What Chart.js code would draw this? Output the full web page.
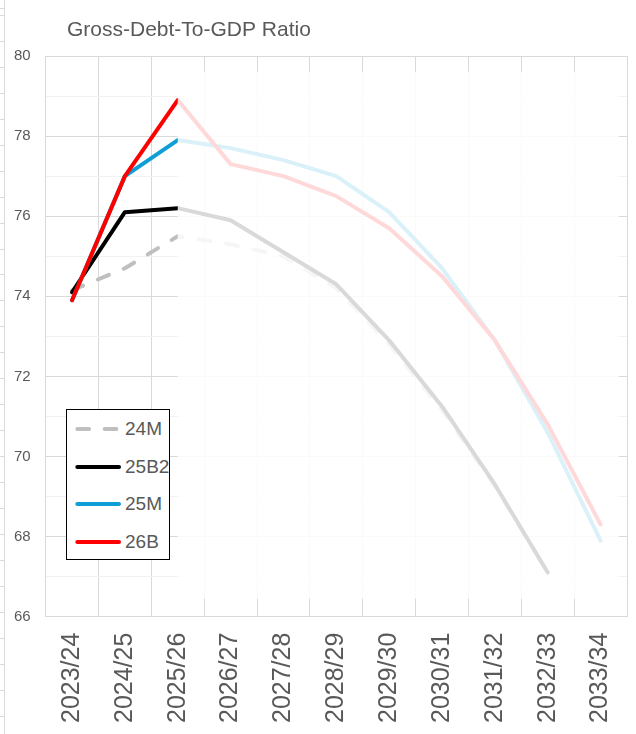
<!DOCTYPE html>
<html>
<head>
<meta charset="utf-8">
<script src="https://cdn.jsdelivr.net/npm/chart.js@4.4.1/dist/chart.umd.min.js"></script>
<style>
  html, body { margin: 0; padding: 0; background: #fff; }
  #wrap { position: relative; width: 636px; height: 734px; overflow: hidden; }
  /* spreadsheet cell lines peeking out at the left edge */
  #sheet { position: absolute; left: 0; top: 0; width: 4px; height: 734px; border-right: 1px solid #dadada;
           background: repeating-linear-gradient(to bottom, #dadada 0 1px, transparent 1px 25.95px);
           background-position: 0 15px; }
  #legend { position: absolute; left: 66px; top: 409px; width: 102px; height: 149px; border: 1px solid #000;
            background: #fff; color: #595959; font: 19px 'Liberation Sans', Arial, sans-serif; }
  #legend .item { position: absolute; left: 0; height: 20px; display: flex; align-items: center; white-space: nowrap; }
  #legend svg { display: block; }
</style>
</head>
<body>
<div id="wrap">
  <div id="sheet"></div>
  <canvas id="chart"></canvas>
  <div id="legend"></div>
</div>
<script>
// fiscal years on the category axis
const years = ['2023/24', '2024/25', '2025/26', '2026/27', '2027/28', '2028/29',
               '2029/30', '2030/31', '2031/32', '2032/33', '2033/34'];
// gross debt as % of GDP, per forecast vintage
const s24M  = [74.15, 74.7, 75.5, 75.3, 75.0, 74.2, 72.8, 71.15, 69.25, 67.1, null];
const s25B2 = [74.1, 76.1, 76.2, 75.9, 75.1, 74.3, 72.9, 71.25, 69.3, 67.1, null];
const s25M  = [73.9, 77.0, 77.9, 77.7, 77.4, 77.0, 76.1, 74.7, 72.9, 70.6, 67.9];
const s26B  = [73.9, 77.0, 78.9, 77.3, 77.0, 76.5, 75.7, 74.5, 72.9, 70.8, 68.3];
const seriesNames = ['24M', '25B2', '25M', '26B'];
const yTicks = [66, 68, 70, 72, 74, 76, 78, 80];
const fadeFrom = '2025/26';   // everything right of this year is washed out

const font = "'Liberation Sans', Arial, sans-serif";
const txt = '#595959', grid = '#d9d9d9', minor = '#f2f2f2';

const mk = (label, data, color, order, dash) => ({
  label, data, order,
  borderColor: color, backgroundColor: color,
  borderWidth: 4, borderDash: dash || [], borderCapStyle: 'round', borderJoinStyle: 'round',
  pointRadius: 0, pointHoverRadius: 0, tension: 0, fill: false, spanGaps: false
});

// white veil over the projection years (Excel shape laid over the plot)
const veil = {
  id: 'veil',
  afterDatasetsDraw(chart) {
    const { ctx, chartArea: a, scales: { x } } = chart;
    const left = x.getPixelForValue(years.indexOf(fadeFrom));
    ctx.save();
    ctx.fillStyle = 'rgba(255,255,255,0.85)';
    ctx.fillRect(left, a.top + 16, a.right - 8 - left, a.bottom - a.top - 34);
    ctx.restore();
  }
};
// title sits indented, not flush with the canvas edge
const titleShift = {
  id: 'titleShift',
  afterLayout(chart) { if (chart.titleBlock) chart.titleBlock.left = 67; }
};

const chart = new Chart(document.getElementById('chart'), {
  type: 'line',
  data: {
    labels: years,
    datasets: [
      mk(seriesNames[0], s24M, '#bfbfbf', 3, [12, 16]),
      mk(seriesNames[1], s25B2, '#000000', 2),
      mk(seriesNames[2], s25M, '#0f9ed5', 1),
      mk(seriesNames[3], s26B, '#ff0000', 0)
    ]
  },
  options: {
    responsive: true, maintainAspectRatio: false, animation: false,
    layout: { padding: { left: 0, right: 9, top: 0, bottom: -5 } },
    plugins: {
      legend: { display: false },
      tooltip: { enabled: false },
      title: { display: true, text: 'Gross-Debt-To-GDP Ratio', align: 'start', color: txt,
               font: { family: font, size: 21, weight: 'normal' }, padding: { top: 17.5, bottom: 13.3 } }
    },
    scales: {
      x: {
        offset: true,
        grid: { offset: true, color: grid, drawTicks: false },
        border: { color: grid },
        ticks: { color: txt, font: { family: font, size: 25 }, minRotation: 90, maxRotation: 90, padding: 16, autoSkip: false },
        afterFit: s => { s.paddingLeft = 0; s.paddingRight = 0; }
      },
      y: {
        min: 66, max: 80,
        grid: { drawTicks: false, color: c => yTicks.includes(c.tick.value) ? grid : minor },
        border: { color: grid },
        ticks: { stepSize: 1, color: txt, font: { family: font, size: 15 }, padding: 15,
                 callback: v => yTicks.includes(v) ? v : '' },
        afterFit: s => { s.width = 45.6; }
      }
    }
  },
  plugins: [veil, titleShift]
});

// html legend built from the datasets
const lg = document.getElementById('legend');
chart.data.datasets.forEach((d, i) => {
  const dash = d.borderDash.length ? 'stroke-dasharray="11.7 15.7"' : '';
  const el = document.createElement('div');
  el.className = 'item';
  el.style.top = (8.7 + i * 37.8) + 'px';
  el.innerHTML = `<svg width="58" height="20"><line x1="10.3" y1="10" x2="52" y2="10" stroke="${d.borderColor}"
      stroke-width="4" stroke-linecap="round" ${dash}/></svg><span>${d.label}</span>`;
  lg.appendChild(el);
});
</script>
</body>
</html>
